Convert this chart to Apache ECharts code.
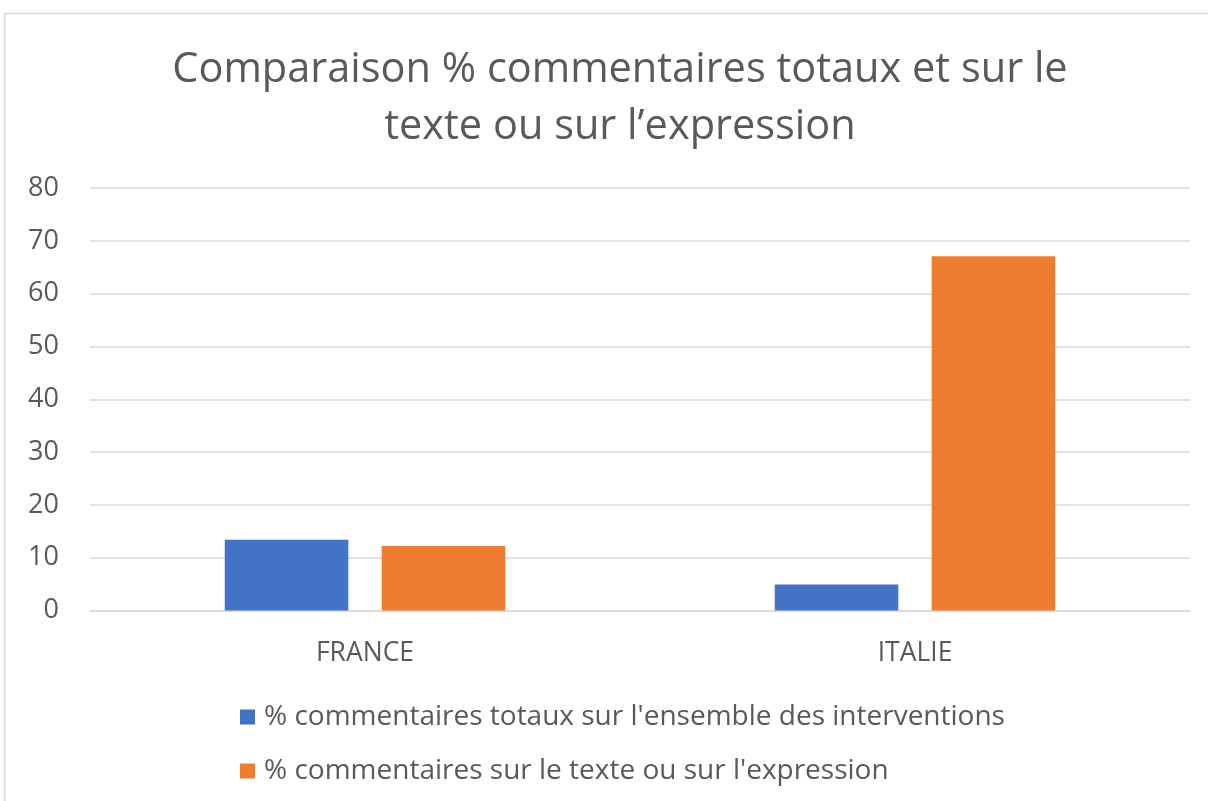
<!DOCTYPE html>
<html>
<head>
<meta charset="utf-8">
<script src="https://cdn.jsdelivr.net/npm/echarts@6/dist/echarts.min.js"></script>
<style>
  html, body { margin: 0; padding: 0; background: #fff; }
  #chart { width: 1208px; height: 801px; }
</style>
</head>
<body>
<div id="chart"></div>
<script>
// Categories and values
const categories = ['FRANCE', 'ITALIE'];
const totalComments = [13.4, 4.9];
const textExpressionComments = [12.2, 67.1];
const seriesNames = [
  "% commentaires totaux sur l'ensemble des interventions",
  "% commentaires sur le texte ou sur l'expression"
];
const yTicks = { min: 0, max: 80, interval: 10 };

const FONT = 'Open Sans';
const GREY = '#595959';

const chart = echarts.init(document.getElementById('chart'));
chart.setOption({
  backgroundColor: '#ffffff',
  animation: false,
  graphic: [{
    type: 'rect',
    shape: { x: 4.5, y: 13.5, width: 1400, height: 1000 },
    style: { fill: 'none', stroke: '#d9d9d9', lineWidth: 1.5 },
    silent: true
  }],
  title: {
    text: 'Comparaison % commentaires totaux et sur le\ntexte ou sur l\u2019expression',
    left: 615,
    top: 37,
    textAlign: 'center',
    textStyle: {
      fontFamily: FONT,
      fontSize: 41.5,
      fontWeight: 'normal',
      color: GREY,
      lineHeight: 57
    }
  },
  grid: { left: 90, right: 18, top: 188, bottom: 190.5, containLabel: false },
  xAxis: {
    type: 'category',
    data: categories,
    axisLine: { lineStyle: { color: '#d9d9d9', width: 1.5 } },
    axisTick: { show: false },
    axisLabel: { fontFamily: FONT, fontSize: 26.5, color: GREY, margin: 29 }
  },
  yAxis: {
    type: 'value',
    min: yTicks.min,
    max: yTicks.max,
    interval: yTicks.interval,
    axisLine: { show: false },
    axisTick: { show: false },
    splitLine: { lineStyle: { color: '#d9d9d9', width: 1.5 } },
    axisLabel: { fontFamily: FONT, fontSize: 27, color: GREY, margin: 31 }
  },
  legend: {
    orient: 'vertical',
    left: 235,
    top: 698,
    itemGap: 26,
    itemWidth: 15,
    itemHeight: 15,
    icon: 'rect',
    textStyle: { fontFamily: FONT, fontSize: 28, color: GREY, padding: [0, 0, 0, 4] },
    data: seriesNames
  },
  series: [
    {
      name: seriesNames[0],
      type: 'bar',
      data: totalComments,
      itemStyle: { color: '#4472c4' },
      barGap: '27%',
      barCategoryGap: '49%'
    },
    {
      name: seriesNames[1],
      type: 'bar',
      data: textExpressionComments,
      itemStyle: { color: '#ed7d31' }
    }
  ]
});
</script>
</body>
</html>
